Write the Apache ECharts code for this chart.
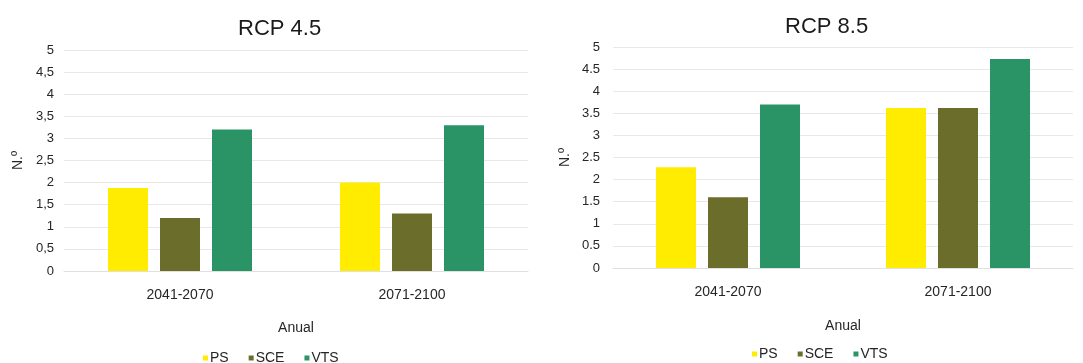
<!DOCTYPE html>
<html><head><meta charset="utf-8">
<script src="https://cdn.jsdelivr.net/npm/echarts@6/dist/echarts.min.js"></script>
<style>html,body{margin:0;padding:0;background:#fff}#c{width:1083px;height:363px}</style>
</head><body><div id="c"></div>
<script>
const categories = ['2041-2070', '2071-2100'];
const seriesNames = ['PS', 'SCE', 'VTS'];
const rcp45_PS = [1.88, 2.0];
const rcp45_SCE = [1.2, 1.3];
const rcp45_VTS = [3.2, 3.3];
const rcp85_PS = [2.28, 3.62];
const rcp85_SCE = [1.6, 3.62];
const rcp85_VTS = [3.7, 4.73];
const tickLabelsLeft = ['0', '0,5', '1', '1,5', '2', '2,5', '3', '3,5', '4', '4,5', '5'];
const tickLabelsRight = ['0', '0.5', '1', '1.5', '2', '2.5', '3', '3.5', '4', '4.5', '5'];
const titles = ['RCP 4.5', 'RCP 8.5'];
const xName = 'Anual';
const yName = 'N.º';

const colors = ['#FFEC00', '#6B6E2A', '#2A9466'];
const font = 'Liberation Sans, Arial, sans-serif';
const txt = '#262626';
const chart = echarts.init(document.getElementById('c'));

function yAxis(grid, labels) {
  return {
    type: 'value', gridIndex: grid, min: 0, max: 5, interval: 0.5,
    name: yName, nameLocation: 'middle', nameGap: grid === 0 ? 39 : 41,
    nameTextStyle: { fontFamily: font, fontSize: 14, color: txt },
    axisLine: { show: false }, axisTick: { show: false },
    axisLabel: { fontFamily: font, fontSize: 13, color: txt, margin: grid === 0 ? 10 : 13,
      formatter: v => labels[Math.round(v / 0.5)] },
    splitLine: { lineStyle: { color: '#E8E8E8', width: 1 } }
  };
}
function xAxis(grid) {
  return {
    type: 'category', gridIndex: grid, data: categories,
    name: xName, nameLocation: 'middle', nameGap: grid === 0 ? 50 : 51,
    nameTextStyle: { fontFamily: font, fontSize: 14, color: txt },
    axisLine: { lineStyle: { color: '#E0E0E0' } }, axisTick: { show: false },
    axisLabel: { fontFamily: font, fontSize: 14, color: txt, margin: 17 }
  };
}
const data45 = [rcp45_PS, rcp45_SCE, rcp45_VTS];
const data85 = [rcp85_PS, rcp85_SCE, rcp85_VTS];
const series = [];
[data45, data85].forEach((set, g) => {
  set.forEach((d, i) => {
    series.push({
      type: 'bar', name: seriesNames[i], xAxisIndex: g, yAxisIndex: g, data: d,
      barWidth: 40, barGap: '30%', itemStyle: { color: colors[i] }
    });
  });
});
const legendBase = {
  data: seriesNames, itemWidth: 5, itemHeight: 5, itemGap: 20, icon: 'rect',
  textStyle: { fontFamily: font, fontSize: 14, color: txt, padding: [0, 0, 0, -3] }
};
chart.setOption({
  animation: false,
  color: colors,
  title: [
    { text: titles[0], left: 233, top: 13,
      textStyle: { fontFamily: font, fontSize: 22, fontWeight: 'normal', color: '#1a1a1a' } },
    { text: titles[1], left: 780, top: 11,
      textStyle: { fontFamily: font, fontSize: 22, fontWeight: 'normal', color: '#1a1a1a' } }
  ],
  legend: [
    Object.assign({}, legendBase, { left: 198, top: 346 }),
    Object.assign({}, legendBase, { left: 747, top: 342 })
  ],
  grid: [
    { left: 64, right: 555, top: 50, bottom: 92 },
    { left: 613, right: 10, top: 47, bottom: 95 }
  ],
  xAxis: [xAxis(0), xAxis(1)],
  yAxis: [yAxis(0, tickLabelsLeft), yAxis(1, tickLabelsRight)],
  series: series
});
</script></body></html>
